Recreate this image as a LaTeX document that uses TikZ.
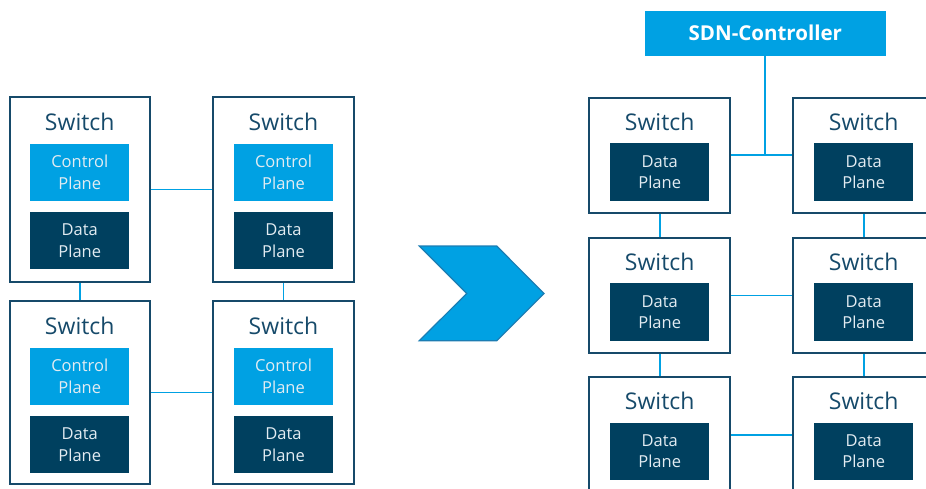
\documentclass[tikz,border=0pt]{standalone}
\usepackage{fontspec}
\setmainfont{Open Sans}
\definecolor{lightblue}{HTML}{00A1E3}
\definecolor{navy}{HTML}{00405F}
\definecolor{frame}{HTML}{164A6A}
\definecolor{arrowedge}{HTML}{1B7DB3}
\definecolor{paletext}{HTML}{E3ECF2}
\tikzset{
  switchbox/.style={draw=frame, line width=2pt, fill=white, minimum width=140.5pt, inner sep=0pt, anchor=north},
  switchtitle/.style={text=frame, font=\fontsize{23}{26}\selectfont, inner sep=0pt},
  ctrlplane/.style={fill=lightblue, text=paletext, minimum width=99pt, minimum height=57.5pt, inner sep=0pt,
    align=center, font=\fontsize{16.5}{21.5}\selectfont},
  dataplane/.style={fill=navy, text=paletext, minimum width=99pt, minimum height=57.5pt, inner sep=0pt,
    align=center, font=\fontsize{16.5}{21.5}\selectfont},
  link/.style={color=lightblue, line width=1.9pt},
}
\begin{document}
\begin{tikzpicture}[x=1pt, y=-1pt]
\useasboundingbox (0,0) rectangle (926,489);
\clip (0,0) rectangle (926,489);

% ---------- classic switches: control and data plane in each box ----------
\foreach \n/\cx/\ty/\h in {a/79.75/96/185, b/283.5/96/185, c/79.75/300/183, d/283.5/300/183}{
  \node[switchbox, minimum height=\h pt] (\n) at (\cx,\ty) {};
  \node[switchtitle] (\n t) at (\cx,\ty+25.5) {Switch};
  \node[ctrlplane] (\n c) at (\cx,\ty+76.5) {Control\\Plane};
  \node[dataplane] (\n d) at (\cx,\ty+144.5) {Data\\Plane};
}
\draw[link] (a.east) -- (b.west);
\draw[link] (c.east) -- (d.west);
\draw[link] (a.south) -- (c.north);
\draw[link] (b.south) -- (d.north);

% ---------- transition chevron ----------
\filldraw[fill=lightblue, draw=arrowedge, line width=1.2pt, line join=miter]
  (419.3,246) -- (496.7,246) -- (544,293.5) -- (496.7,340.7) -- (419.3,340.7) -- (466.7,293.5) -- cycle;

% ---------- SDN: switches with data plane only ----------
\node[fill=lightblue, text=white, minimum width=240.7pt, minimum height=44.7pt, inner sep=0pt,
  font=\bfseries\fontsize{20.5}{24}\selectfont] (ctrl) at (765.3,33.3) {SDN-Controller};

\foreach \n/\cx/\ty in {p/659.7/96.7, q/863.7/96.7, r/659.7/236.7, s/863.7/236.7, u/659.7/376, v/863.7/376}{
  \node[switchbox, minimum height=115.5pt] (\n) at (\cx,\ty) {};
  \node[switchtitle] (\n t) at (\cx,\ty+25.3) {Switch};
  \node[dataplane] (\n d) at (\cx,\ty+75.3) {Data\\Plane};
}
\draw[link] (p.east) -- (q.west);
\draw[link] (ctrl.south) -- (ctrl.south |- p.east);
\draw[link] (r.east) -- (s.west);
\draw[link] (u.east) -- (v.west);
\draw[link] (p.south) -- (r.north);
\draw[link] (r.south) -- (u.north);
\draw[link] (q.south) -- (s.north);
\draw[link] (s.south) -- (v.north);
\end{tikzpicture}
\end{document}
